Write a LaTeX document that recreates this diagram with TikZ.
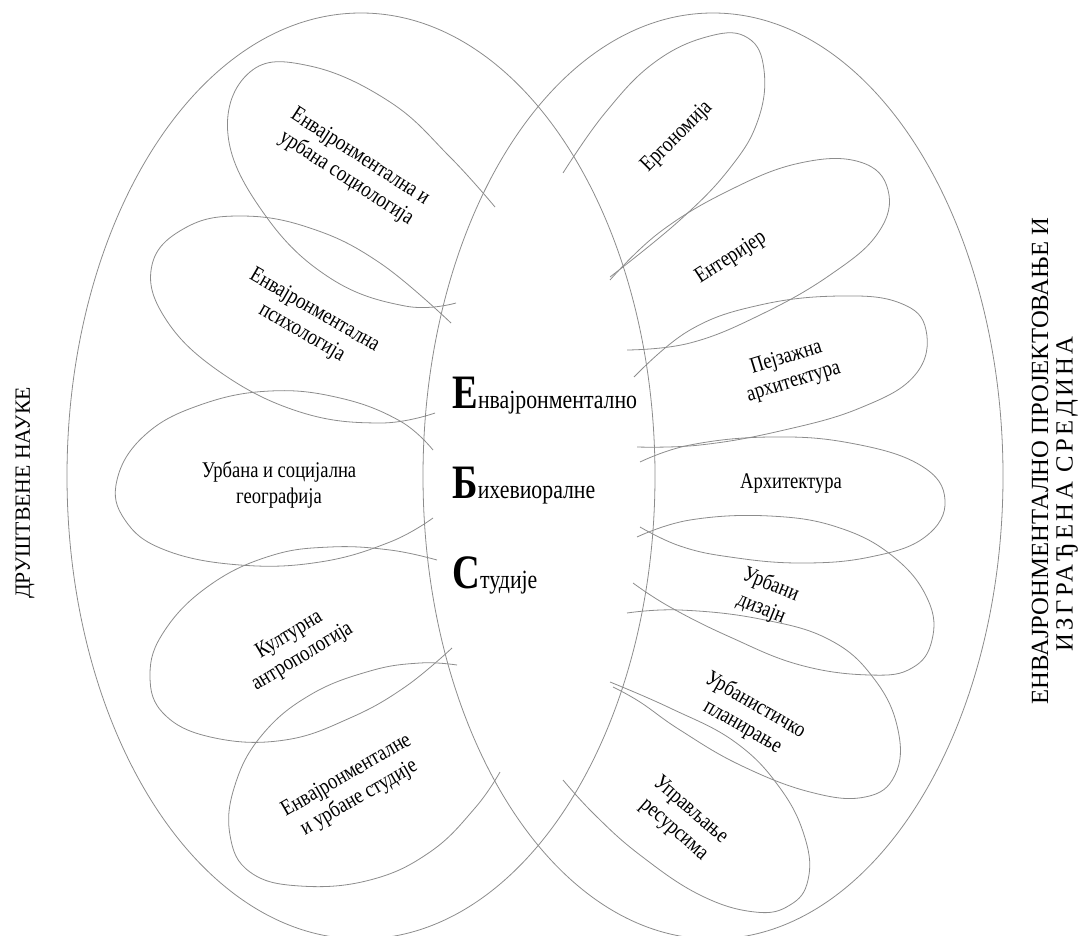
\documentclass[tikz,border=0pt]{standalone}
\usepackage{fontspec}
\setmainfont[FakeStretch=0.83]{Liberation Serif}
\newfontfamily\labelfont{Liberation Serif}
\newfontfamily\labelwidefont[LetterSpace=14]{Liberation Serif}
\newfontfamily\initfont[FakeStretch=0.8]{Liberation Serif}

\tikzset{every picture/.style={line width=0.6pt}}
\tikzset{
	field/.style={color={rgb, 255:red, 140; green, 140; blue, 140 }, draw opacity=1},
	petal/.style={color={rgb, 255:red, 140; green, 140; blue, 140 }, draw opacity=1},
	petal text/.style={font=\fontsize{16.8}{19}\selectfont, align=center, inner sep=0pt},
	side text/.style={font=\labelfont\fontsize{16.3}{20}\selectfont, inner sep=0pt}}
\newcommand{\ebsword}[2]{{\initfont\bfseries\fontsize{36}{36}\selectfont #1}{\fontsize{19.7}{20}\selectfont #2}}

\begin{document}
\begin{tikzpicture}[x=0.75pt,y=0.75pt,yscale=-1,xscale=1]
	\useasboundingbox (0,0) rectangle (1087,935);

	%Shape: Ellipse [social sciences]
	\draw [field] (361,476) ellipse [x radius=294, y radius=463];
	%Shape: Ellipse [design and built environment]
	\draw [field] (713,476) ellipse [x radius=290, y radius=463];

	%Petals left
	\draw [petal] plot [smooth, tension=0.7] coordinates {(456,303) (405,306) (330,278) (265,215) (228,135) (250,72) (310,66) (390,102) (450,157) (495,207)};
	\draw [petal] plot [smooth, tension=0.7] coordinates {(435,413) (380,423) (300,412) (220,372) (165,318) (152,265) (185,228) (240,216) (310,228) (380,263) (451,323)};
	\draw [petal] plot [smooth, tension=0.7] coordinates {(433,450) (400,421) (340,398) (270,391) (200,405) (145,435) (117,480) (125,520) (165,550) (240,565) (320,562) (390,542) (433,518)};
	\draw [petal] plot [smooth, tension=0.7] coordinates {(437,560) (390,550) (330,547) (270,556) (210,585) (165,630) (150,675) (165,715) (215,738) (285,740) (350,718) (405,687) (452,648)};
	\draw [petal] plot [smooth, tension=0.7] coordinates {(457,665) (420,663) (370,671) (310,695) (262,735) (235,785) (230,835) (250,872) (300,886) (370,880) (430,852) (475,808) (500,772)};

	%Petals right
	\draw [petal] plot [smooth, tension=0.7] coordinates {(563,173) (605,113) (655,62) (710,36) (748,38) (764,70) (758,120) (730,168) (680,220) (610,277)};
	\draw [petal] plot [smooth, tension=0.7] coordinates {(610,280) (660,232) (730,190) (800,163) (860,162) (888,190) (878,233) (830,275) (760,315) (690,343) (627,350)};
	\draw [petal] plot [smooth, tension=0.7] coordinates {(634,377) (690,330) (760,305) (840,296) (900,303) (926,330) (915,375) (860,408) (780,431) (700,445) (637,447)};
	\draw [petal] plot [smooth, tension=0.7] coordinates {(640,462) (690,445) (770,437) (850,443) (920,465) (945,500) (925,537) (870,557) (800,563) (730,557) (680,546) (640,527)};
	\draw [petal] plot [smooth, tension=0.7] coordinates {(637,537) (690,520) (770,516) (840,528) (895,558) (928,600) (932,640) (912,668) (870,675) (800,665) (730,637) (670,607) (633,583)};
	\draw [petal] plot [smooth, tension=0.7] coordinates {(627,613) (680,610) (760,619) (830,640) (875,680) (898,730) (895,775) (865,797) (810,792) (740,765) (680,730) (640,702) (613,687)};
	\draw [petal] plot [smooth, tension=0.7] coordinates {(610,682) (670,708) (735,742) (780,788) (805,838) (808,880) (790,905) (755,912) (700,895) (640,855) (595,815) (563,780)};

	% Text Node
	\draw (353,168) node (sociology) [petal text, rotate=-33] {Енвајронментална и\\урбана социологија};
	% Text Node
	\draw (308,322) node (psychology) [petal text, rotate=-30] {Енвајронментална\\психологија};
	% Text Node
	\draw (279,485) node (geography) [petal text] {Урбана и социјална\\географија};
	% Text Node
	\draw (296,646) node (anthropology) [petal text, rotate=31] {Културна\\антропологија};
	% Text Node
	\draw (353,787) node (urbanstudies) [petal text, rotate=30] {Енвајронменталне\\и урбане студије};

	% Text Node
	\draw (677,137) node (ergonomics) [petal text, rotate=45] {Ергономија};
	% Text Node
	\draw (731,258) node (interior) [petal text, rotate=33] {Ентеријер};
	% Text Node
	\draw (790,370) node (landscape) [petal text, rotate=17] {Пејзажна\\архитектура};
	% Text Node
	\draw (791,484) node (architecture) [petal text] {Архитектура};
	% Text Node
	\draw (766,597) node (urbandesign) [petal text, rotate=-22] {Урбани\\дизајн};
	% Text Node
	\draw (749,716) node (planning) [petal text, rotate=-30] {Урбанистичко\\планирање};
	% Text Node
	\draw (682,820) node (resources) [petal text, rotate=-41] {Управљање\\ресурсима};

	% Text Node
	\draw (452,408) node (ebsE) [anchor=base west, inner sep=0pt] {\ebsword{Е}{нвајронментално}};
	% Text Node
	\draw (452,498) node (ebsB) [anchor=base west, inner sep=0pt] {\ebsword{Б}{ихевиоралне}};
	% Text Node
	\draw (452,588) node (ebsS) [anchor=base west, inner sep=0pt] {\ebsword{С}{тудије}};

	% Text Node
	\draw (25,493) node (social) [side text, rotate=90] {ДРУШТВЕНЕ НАУКЕ};
	% Text Node
	\draw (1040,461) node (designA) [side text, font=\labelfont\fontsize{18.5}{20}\selectfont, rotate=90] {ЕНВАЈРОНМЕНТАЛНО ПРОЈЕКТОВАЊЕ И};
	% Text Node
	\draw (1067,494) node (designB) [side text, font=\labelwidefont\fontsize{18.5}{20}\selectfont, rotate=90] {ИЗГРАЂЕНА СРЕДИНА};

\end{tikzpicture}
\end{document}
